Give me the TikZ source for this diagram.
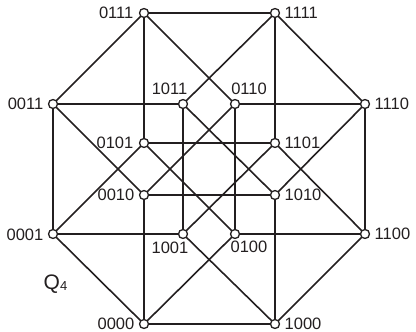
\documentclass[tikz,border=0pt]{standalone}
\usepackage{fontspec}
\setmainfont{Liberation Sans}
\definecolor{ink}{HTML}{231F20}
\begin{document}
\begin{tikzpicture}[x=1pt,y=-1pt,
  vtx/.style={circle,draw=ink,fill=white,line width=1.3pt,minimum size=9pt,inner sep=0pt},
  edge/.style={draw=ink,line width=1.6pt},
  lbl/.style={inner sep=0pt,text=ink,font=\fontsize{16.5}{18}\selectfont}]
\useasboundingbox (0,0) rectangle (416,332);
% vertices
\foreach \n/\x/\y in {0111/144/13,1111/275/13,0011/53/104,1011/183/104,0110/235/104,1110/365/104,
  0101/144/143,1101/275/143,0010/144/195,1010/275/195,0001/53/234,1001/183/234,
  0100/235/234,1100/365/234,0000/144/324,1000/275/324}
  \coordinate (c\n) at (\x,\y);
\foreach \a/\b in {0000/0001,0000/0010,0000/0100,0000/1000,
  0001/0011,0001/0101,0001/1001,
  0010/0011,0010/0110,0010/1010,
  0011/0111,0011/1011,
  0100/0101,0100/0110,0100/1100,
  0101/0111,0101/1101,
  0110/0111,0110/1110,
  0111/1111,
  1000/1001,1000/1010,1000/1100,
  1001/1011,1001/1101,
  1010/1011,1010/1110,
  1011/1111,
  1100/1101,1100/1110,
  1101/1111,
  1110/1111}
  \draw[edge] (c\a) -- (c\b);
\foreach \n in {0111,1111,0011,1011,0110,1110,0101,1101,0010,1010,0001,1001,0100,1100,0000,1000}
  \node[vtx] (n\n) at (c\n) {};
% labels
\node[lbl,anchor=east] (l0111) at (133.5,13) {0111};
\node[lbl,anchor=west] (l1111) at (284.5,13) {1111};
\node[lbl,anchor=east] (l0011) at (43.5,104) {0011};
\node[lbl] (l1011) at (169.5,89) {1011};
\node[lbl] (l0110) at (249,89) {0110};
\node[lbl,anchor=west] (l1110) at (374.5,104) {1110};
\node[lbl,anchor=east] (l0101) at (133.5,142.5) {0101};
\node[lbl,anchor=west] (l1101) at (284.5,142.5) {1101};
\node[lbl,anchor=east] (l0010) at (134.5,195) {0010};
\node[lbl,anchor=west] (l1010) at (284.5,195) {1010};
\node[lbl,anchor=east] (l0001) at (43.5,234.5) {0001};
\node[lbl] (l1001) at (170,248) {1001};
\node[lbl] (l0100) at (249,247) {0100};
\node[lbl,anchor=west] (l1100) at (374.5,234) {1100};
\node[lbl,anchor=east] (l0000) at (134.5,324) {0000};
\node[lbl,anchor=west] (l1000) at (284.5,324) {1000};
\node[inner sep=0pt,text=ink,anchor=base west,font=\fontsize{21}{24}\selectfont] (q4) at (43.5,289.5) {Q\raisebox{-1pt}{\fontsize{13}{15}\selectfont 4}};
\end{tikzpicture}
\end{document}
